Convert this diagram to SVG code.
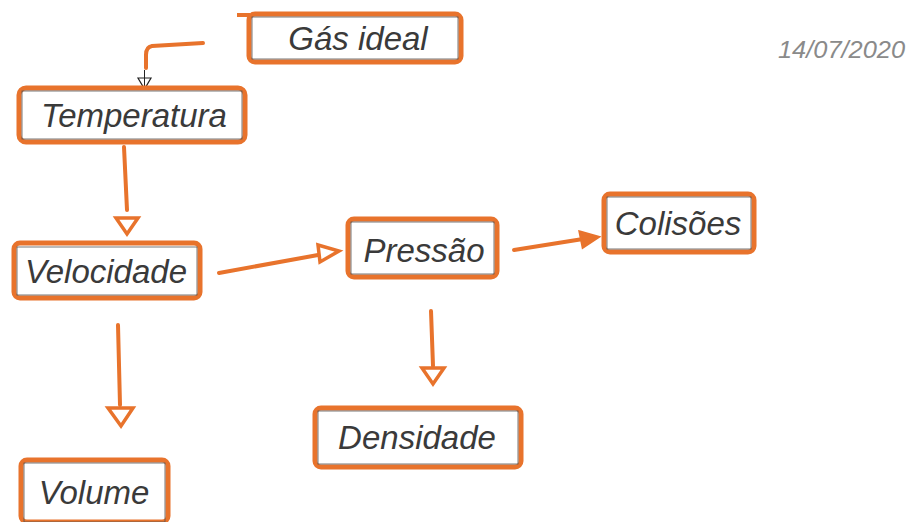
<svg xmlns="http://www.w3.org/2000/svg" width="911" height="522" viewBox="0 0 911 522">
<style>
.box{fill:#fff;stroke:#e8732c;stroke-width:5;stroke-linejoin:round}
.pen{fill:none;stroke:#555;stroke-width:0.8}
.lbl{font-family:"Liberation Sans",Arial,sans-serif;font-size:33px;fill:#3a3a3a;text-anchor:middle;font-style:italic}
.con{fill:none;stroke:#e8732c;stroke-width:4;stroke-linecap:round}
.date{font-family:"Liberation Sans",Arial,sans-serif;font-size:24px;fill:#8a8a8a;font-style:italic}
</style>
<rect width="911" height="522" fill="#fff"/>
<g id="connectors">
<path class="con" d="M203,43 L152,46 Q146,47 146,55 L146,68"/>
<path d="M138,78 L151,78 L144.5,89 Z" fill="none" stroke="#222" stroke-width="1.2"/>
<line x1="144.5" y1="70" x2="144.5" y2="89" stroke="#222" stroke-width="1"/>
<path class="con" d="M124,147 L127,210"/>
<path d="M116,218 L138,218 L127,234 Z" fill="#fff" stroke="#e8732c" stroke-width="3.5"/>
<path class="con" d="M219,273 L318,255"/>
<path d="M318,245 L339,251 L320,262 Z" fill="#fff" stroke="#e8732c" stroke-width="3.5"/>
<path class="con" d="M514,250 L583,239"/>
<path d="M580,232 L598,237 L583,247 Z" fill="#e8732c" stroke="#e8732c" stroke-width="3"/>
<path class="con" d="M431,311 L433,366"/>
<path d="M422,368 L444,368 L433,384 Z" fill="#fff" stroke="#e8732c" stroke-width="3.5"/>
<path class="con" d="M118,325 L120,405"/>
<path d="M108,408 L133,408 L121,426 Z" fill="#fff" stroke="#e8732c" stroke-width="3.5"/>
</g>
<g id="gas-ideal">
<line x1="237" y1="15" x2="250" y2="15" stroke="#e8732c" stroke-width="4"/>
<rect class="box" x="249" y="14" width="212" height="48" rx="6"/>
<rect class="pen" x="252" y="17" width="206" height="42"/>
<text class="lbl" x="358" y="50">Gás ideal</text>
</g>
<g id="temperatura">
<rect class="box" x="19" y="88" width="226" height="54" rx="7"/>
<rect class="pen" x="22" y="91" width="220" height="48"/>
<text class="lbl" x="134" y="127">Temperatura</text>
</g>
<g id="velocidade">
<rect class="box" x="14" y="243" width="186" height="55" rx="6"/>
<rect class="pen" x="17" y="247" width="180" height="48"/>
<text class="lbl" x="106" y="283">Velocidade</text>
</g>
<g id="pressao">
<rect class="box" x="348" y="219" width="149" height="58" rx="6"/>
<rect class="pen" x="351" y="222" width="143" height="52"/>
<text class="lbl" x="424" y="262">Pressão</text>
</g>
<g id="colisoes">
<rect class="box" x="604" y="194" width="150" height="58" rx="6"/>
<rect class="pen" x="607" y="197" width="144" height="52"/>
<text class="lbl" x="678" y="235">Colisões</text>
</g>
<g id="densidade">
<rect class="box" x="315" y="408" width="206" height="59" rx="6"/>
<rect class="pen" x="318" y="411" width="200" height="53"/>
<text class="lbl" x="417" y="449">Densidade</text>
</g>
<g id="volume">
<rect class="box" x="21" y="460" width="147" height="62" rx="6"/>
<rect class="pen" x="24" y="463" width="141" height="59"/>
<text class="lbl" x="94" y="504">Volume</text>
</g>
<text class="date" x="778" y="58" textLength="127" lengthAdjust="spacingAndGlyphs">14/07/2020</text>
</svg>
